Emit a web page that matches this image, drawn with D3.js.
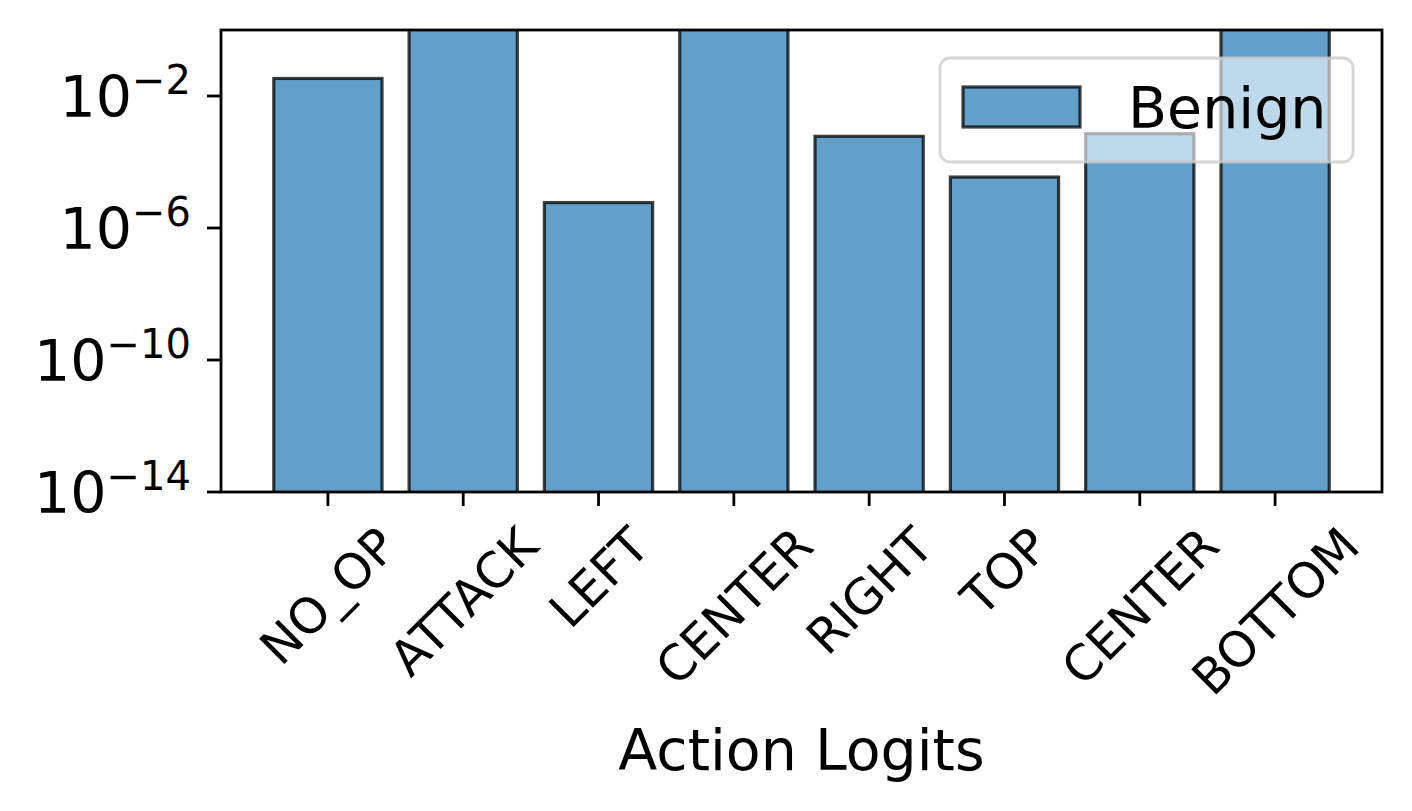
<!doctype html>
<html>
<head>
<meta charset="utf-8">
<script src="https://cdnjs.cloudflare.com/ajax/libs/d3/7.8.5/d3.min.js"></script>
<style>
  body { margin: 0; background: #fff; }
  text { font-family: "DejaVu Sans", sans-serif; fill: #000; }
</style>
</head>
<body>
<svg id="chart" width="1412" height="811"></svg>
<script>
// data
var actions = ["NO_OP", "ATTACK", "LEFT", "CENTER", "RIGHT", "TOP", "CENTER", "BOTTOM"];
var benign = [0.034, 5, 5.9e-6, 5, 6e-4, 3.5e-5, 7.2e-4, 5];
var yTickExps = [-2, -6, -10, -14];
var seriesName = "Benign";

var svg = d3.select("#chart");
var plot = {left: 221, right: 1382, top: 30, bottom: 492};

var x = d3.scaleLinear().domain([-0.79, actions.length - 1 + 0.79]).range([plot.left, plot.right]);
var y = d3.scaleLog().domain([1e-14, 1]).range([plot.bottom, plot.top]);
var barW = x(0.8) - x(0);

svg.append("clipPath").attr("id", "plotclip")
  .append("rect").attr("x", plot.left).attr("y", plot.top)
  .attr("width", plot.right - plot.left).attr("height", plot.bottom - plot.top);

// bars
svg.append("g").attr("clip-path", "url(#plotclip)")
  .selectAll("rect").data(benign).enter().append("rect")
  .attr("x", (d, i) => x(i) - barW / 2)
  .attr("width", barW)
  .attr("y", d => y(d))
  .attr("height", d => plot.bottom - y(d) + 2)
  .attr("fill", "#1f77b4").attr("fill-opacity", 0.7)
  .attr("stroke", "#000").attr("stroke-opacity", 0.75)
  .attr("stroke-width", 3.2);

// y ticks
var yt = svg.append("g");
yTickExps.forEach(function(e) {
  var yy = y(Math.pow(10, e));
  yt.append("line").attr("x1", plot.left - 14).attr("x2", plot.left)
    .attr("y1", yy).attr("y2", yy).attr("stroke", "#000").attr("stroke-width", 2.8);
  var t = yt.append("text").attr("x", plot.left - 30).attr("y", yy + 21)
    .attr("text-anchor", "end").style("font-size", "57px");
  t.append("tspan").text("10");
  t.append("tspan").attr("dy", -23).style("font-size", "40px").text("\u2212" + Math.abs(e));
});

// x ticks
var xt = svg.append("g");
var xfs = 49;
actions.forEach(function(a, i) {
  var xx = x(i);
  xt.append("line").attr("x1", xx).attr("x2", xx)
    .attr("y1", plot.bottom).attr("y2", plot.bottom + 14).attr("stroke", "#000").attr("stroke-width", 2.8);
  var t = xt.append("text").text(a).style("font-size", xfs + "px")
    .attr("text-anchor", "middle").attr("dy", "0.36em");
  var w = t.node().getComputedTextLength();
  var h = xfs * 1.0;
  var cy = plot.bottom + 27 + (w + h) / (2 * Math.SQRT2);
  t.attr("transform", "translate(" + xx + "," + cy + ") rotate(-45)");
});

// spines
svg.append("rect").attr("x", plot.left).attr("y", plot.top)
  .attr("width", plot.right - plot.left).attr("height", plot.bottom - plot.top)
  .attr("fill", "none").attr("stroke", "#000").attr("stroke-width", 2.8);

// x label
svg.append("text").attr("x", (plot.left + plot.right) / 2).attr("y", 770)
  .attr("text-anchor", "middle").style("font-size", "57px").text("Action Logits");

// legend
var lg = svg.append("g");
lg.append("rect").attr("x", 940).attr("y", 58).attr("width", 413).attr("height", 104)
  .attr("rx", 10).attr("fill", "#fff").attr("fill-opacity", 0.6)
  .attr("stroke", "#ccc").attr("stroke-opacity", 0.8).attr("stroke-width", 2.8);
lg.append("rect").attr("x", 963).attr("y", 87).attr("width", 117).attr("height", 40)
  .attr("fill", "#1f77b4").attr("fill-opacity", 0.7)
  .attr("stroke", "#000").attr("stroke-opacity", 0.75).attr("stroke-width", 3.2);
lg.append("text").attr("x", 1128).attr("y", 128).style("font-size", "57px").text(seriesName);
</script>
</body>
</html>
